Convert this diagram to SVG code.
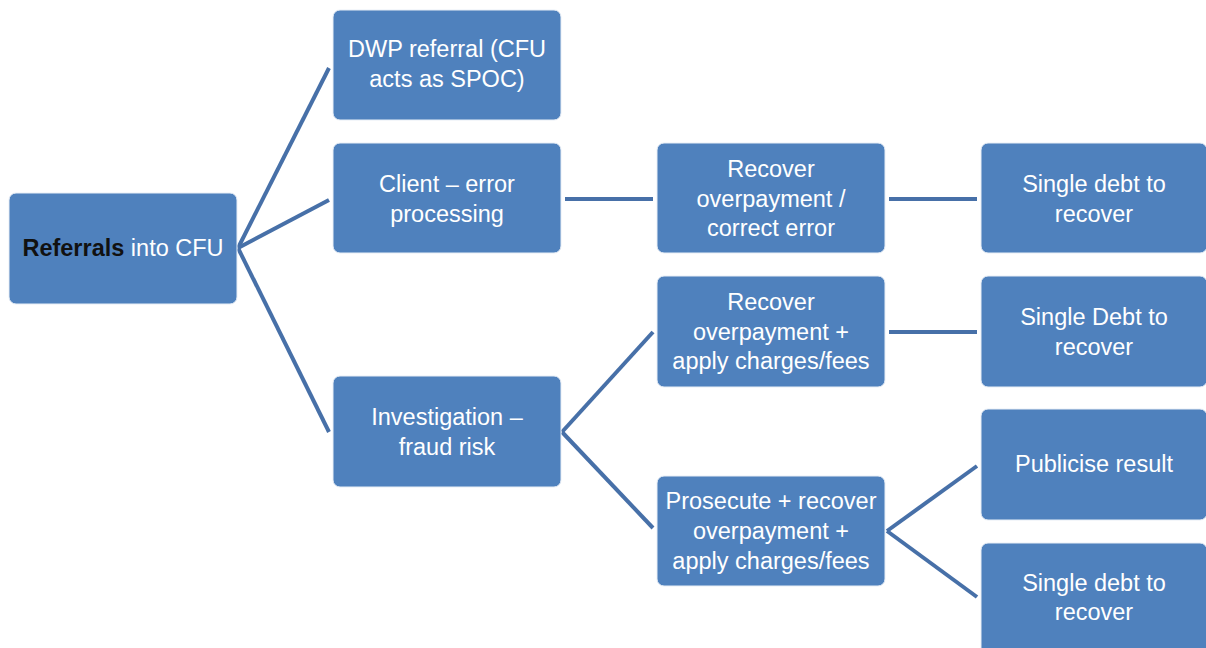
<svg xmlns="http://www.w3.org/2000/svg" width="1206" height="648" viewBox="0 0 1206 648">
<style>
.box{fill:#4F81BD;stroke:#e8eef6;stroke-width:1}
.t{font-family:"Liberation Sans",Arial,sans-serif;font-size:23.5px;fill:#ffffff;text-anchor:middle}
.b{font-weight:bold;fill:#111111}
.c{stroke:#4770A8;stroke-width:4;fill:none;stroke-linecap:butt}
</style>
<rect width="1206" height="648" fill="#ffffff"/>
<g id="connectors">
<line class="c" x1="238" y1="248" x2="329" y2="68"/>
<line class="c" x1="238" y1="248" x2="329" y2="200"/>
<line class="c" x1="238" y1="248" x2="329" y2="432"/>
<line class="c" x1="565" y1="199" x2="653" y2="199"/>
<line class="c" x1="889" y1="199" x2="977" y2="199"/>
<line class="c" x1="562" y1="432" x2="653" y2="332"/>
<line class="c" x1="562" y1="432" x2="653" y2="528"/>
<line class="c" x1="889" y1="332" x2="977" y2="332"/>
<line class="c" x1="887" y1="531" x2="977" y2="466"/>
<line class="c" x1="887" y1="531" x2="977" y2="597"/>
</g>
<g id="n_referrals">
<rect class="box" x="9" y="193" width="228" height="111" rx="7"/>
<text class="t" x="123" y="256"><tspan class="b">Referrals</tspan> into CFU</text>
</g>
<g id="n_dwp">
<rect class="box" x="333" y="10" width="228" height="110" rx="7"/>
<text class="t" x="447" y="57">DWP referral  (CFU</text>
<text class="t" x="447" y="87">acts as SPOC)</text>
</g>
<g id="n_client">
<rect class="box" x="333" y="143" width="228" height="110" rx="7"/>
<text class="t" x="447" y="192">Client – error</text>
<text class="t" x="447" y="222">processing</text>
</g>
<g id="n_investigation">
<rect class="box" x="333" y="376" width="228" height="111" rx="7"/>
<text class="t" x="447" y="425">Investigation –</text>
<text class="t" x="447" y="455">fraud risk</text>
</g>
<g id="n_recover_correct">
<rect class="box" x="657" y="143" width="228" height="110" rx="7"/>
<text class="t" x="771" y="177">Recover</text>
<text class="t" x="771" y="207">overpayment /</text>
<text class="t" x="771" y="236">correct error</text>
</g>
<g id="n_single1">
<rect class="box" x="981" y="143" width="226" height="110" rx="7"/>
<text class="t" x="1094" y="192">Single debt to</text>
<text class="t" x="1094" y="222">recover</text>
</g>
<g id="n_recover_fees">
<rect class="box" x="657" y="276" width="228" height="111" rx="7"/>
<text class="t" x="771" y="310">Recover</text>
<text class="t" x="771" y="340">overpayment +</text>
<text class="t" x="771" y="369">apply charges/fees</text>
</g>
<g id="n_single2">
<rect class="box" x="981" y="276" width="226" height="111" rx="7"/>
<text class="t" x="1094" y="325">Single Debt to</text>
<text class="t" x="1094" y="355">recover</text>
</g>
<g id="n_prosecute">
<rect class="box" x="657" y="476" width="228" height="110" rx="7"/>
<text class="t" x="771" y="509">Prosecute + recover</text>
<text class="t" x="771" y="539">overpayment +</text>
<text class="t" x="771" y="569">apply charges/fees</text>
</g>
<g id="n_publicise">
<rect class="box" x="981" y="409" width="226" height="111" rx="7"/>
<text class="t" x="1094" y="472">Publicise result</text>
</g>
<g id="n_single3">
<rect class="box" x="981" y="543" width="226" height="120" rx="7"/>
<text class="t" x="1094" y="591">Single debt to</text>
<text class="t" x="1094" y="620">recover</text>
</g>
</svg>
